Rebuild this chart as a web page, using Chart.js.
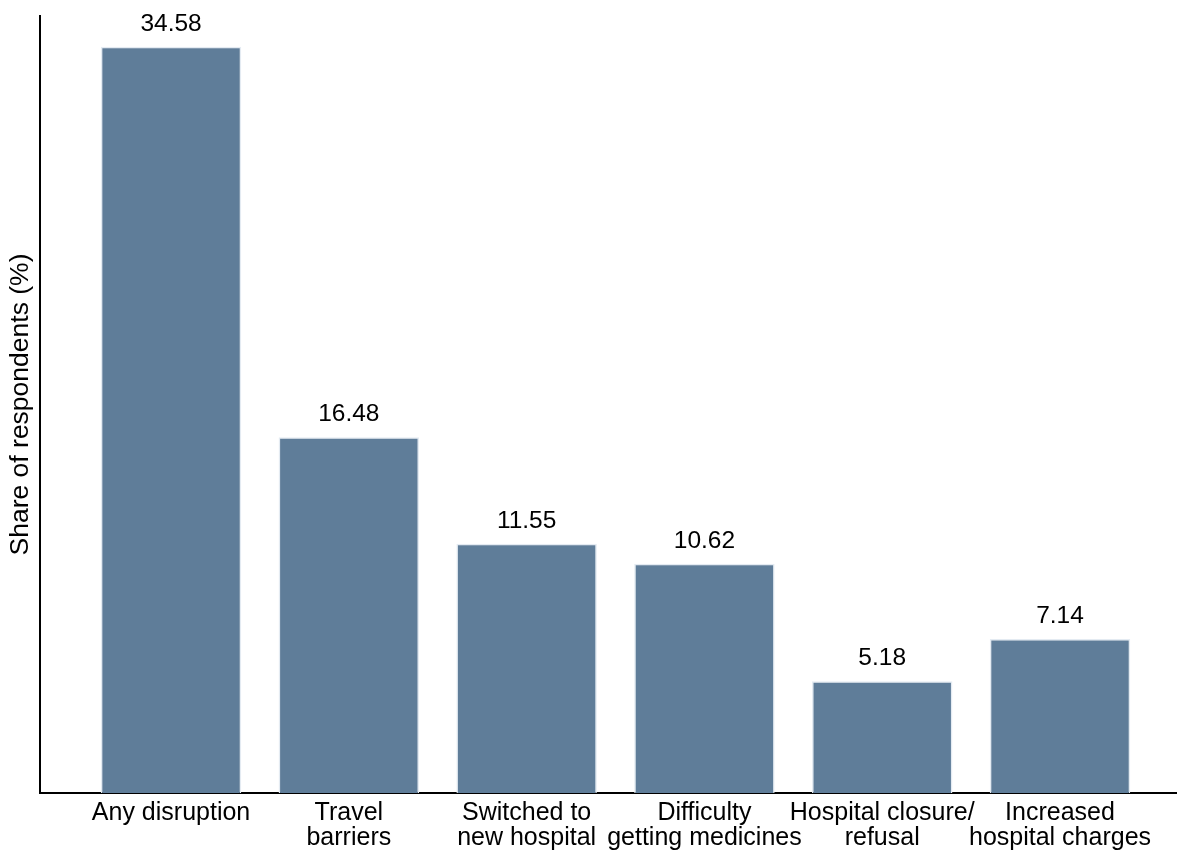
<!DOCTYPE html>
<html>
<head>
<meta charset="utf-8">
<script src="https://cdn.jsdelivr.net/npm/chart.js@4.4.1/dist/chart.umd.min.js"></script>
<style>
  html, body { margin: 0; padding: 0; background: #ffffff; }
  #wrap { width: 1177px; height: 853px; position: relative; }
</style>
</head>
<body>
<div id="wrap"><canvas id="c" width="1177" height="853"></canvas></div>
<script>
const categories = [
  ["Any disruption"],
  ["Travel", "barriers"],
  ["Switched to", "new hospital"],
  ["Difficulty", "getting medicines"],
  ["Hospital closure/", "refusal"],
  ["Increased", "hospital charges"]
];
const shares = [34.58, 16.48, 11.55, 10.62, 5.18, 7.14];
const yAxisTitle = "Share of respondents (%)";

const FONT = "'Liberation Sans', Arial, Helvetica, sans-serif";

const valueLabels = {
  id: 'valueLabels',
  afterDatasetsDraw(chart) {
    const ctx = chart.ctx;
    const meta = chart.getDatasetMeta(0);
    ctx.save();
    ctx.font = "24.5px " + FONT;
    ctx.fillStyle = "#000000";
    ctx.textAlign = "center";
    ctx.textBaseline = "alphabetic";
    meta.data.forEach((bar, i) => {
      ctx.fillText(shares[i].toFixed(2), bar.x, bar.y - 16);
    });
    ctx.restore();
  }
};

new Chart(document.getElementById('c'), {
  type: 'bar',
  data: {
    datasets: [{
      data: shares.map((v, i) => ({ x: i, y: v })),
      backgroundColor: '#5f7d99',
      borderColor: '#e4ebf2',
      borderWidth: 1.5,
      barPercentage: 1,
      categoryPercentage: 0.79
    }]
  },
  options: {
    responsive: false,
    animation: false,
    devicePixelRatio: 1,
    layout: { padding: { top: 16, right: 0, left: 0, bottom: 0 } },
    plugins: {
      legend: { display: false },
      tooltip: { enabled: false }
    },
    scales: {
      x: {
        type: 'linear',
        offset: false,
        min: -0.737,
        max: 5.658,
        grid: { display: false, drawTicks: false, offset: false },
        border: { display: true, color: '#000000', width: 2 },
        afterBuildTicks(scale) {
          scale.ticks = categories.map((_, i) => ({ value: i }));
        },
        afterFit(scale) { scale.height = 60; },
        ticks: {
          autoSkip: false,
          maxRotation: 0,
          minRotation: 0,
          padding: 8,
          color: '#000000',
          font: { family: FONT, size: 25, lineHeight: 1.0 },
          callback: (v) => categories[v] || ''
        }
      },
      y: {
        min: 0,
        max: 36,
        grid: { display: false, drawTicks: false },
        border: { display: true, color: '#000000', width: 2 },
        ticks: { display: false },
        afterFit(scale) { scale.width = 40; },
        title: {
          display: true,
          text: yAxisTitle,
          color: '#000000',
          font: { family: FONT, size: 26.5 },
          padding: { top: 5, bottom: 0 }
        }
      }
    }
  },
  plugins: [valueLabels]
});
</script>
</body>
</html>
